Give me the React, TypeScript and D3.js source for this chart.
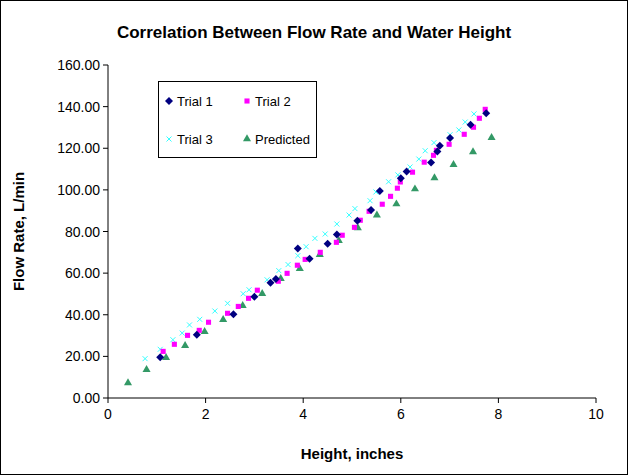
import * as d3 from 'd3';

const trial1X = [1.07, 1.82, 2.57, 3.0, 3.33, 3.44, 3.89, 4.13, 4.5, 4.69, 5.11, 5.39, 5.57, 6.0, 6.12, 6.62, 6.75, 6.8, 7.01, 7.43, 7.75];
const trial1Y = [19.6, 30.4, 40.2, 48.7, 55.4, 57.2, 71.8, 66.9, 74.1, 78.5, 85.2, 90.3, 99.5, 105.6, 108.8, 113.1, 118.4, 121.2, 124.9, 131.3, 136.8];
const trial2X = [1.13, 1.36, 1.63, 1.87, 2.06, 2.45, 2.67, 2.88, 3.06, 3.49, 3.67, 3.88, 4.04, 4.35, 4.68, 4.8, 5.05, 5.17, 5.35, 5.62, 5.79, 5.93, 5.99, 6.24, 6.48, 6.67, 6.73, 6.99, 7.3, 7.49, 7.61, 7.73];
const trial2Y = [22.4, 25.8, 30.1, 32.5, 36.4, 40.7, 44.0, 47.9, 51.8, 56.1, 59.9, 63.8, 66.6, 70.0, 74.8, 78.2, 82.0, 85.4, 89.7, 93.1, 96.9, 100.8, 103.8, 108.5, 113.3, 116.6, 119.0, 121.9, 126.7, 130.1, 134.4, 138.7];
const trial3X = [0.76, 1.07, 1.33, 1.52, 1.67, 1.88, 2.19, 2.45, 2.77, 2.89, 3.26, 3.5, 3.69, 3.89, 4.06, 4.24, 4.45, 4.69, 4.94, 5.06, 5.37, 5.49, 5.75, 5.94, 6.19, 6.37, 6.5, 6.68, 7.01, 7.19, 7.32, 7.5];
const trial3Y = [18.9, 23.4, 28.0, 31.2, 35.1, 37.8, 41.8, 45.5, 50.1, 52.0, 56.8, 61.2, 64.1, 68.4, 72.7, 76.7, 78.8, 83.6, 87.9, 91.0, 94.8, 99.0, 103.9, 107.2, 111.0, 114.8, 118.8, 122.7, 126.5, 128.8, 132.6, 136.5];
const predX = [0.41, 0.79, 1.19, 1.58, 1.98, 2.36, 2.76, 3.16, 3.54, 3.93, 4.34, 4.73, 5.12, 5.51, 5.91, 6.29, 6.69, 7.08, 7.48, 7.86];
const predY = [7.2, 13.6, 19.4, 25.1, 31.9, 37.6, 44.4, 50.1, 57.3, 62.1, 68.9, 75.6, 81.7, 87.9, 93.2, 100.4, 105.7, 112.1, 118.2, 125.1];
const xTicks = [0, 2, 4, 6, 8, 10];
const yTicks = [0, 20, 40, 60, 80, 100, 120, 140, 160];

const W = 629, H = 476;
const x = d3.scaleLinear().domain([0, 10]).range([108, 596]);
const y = d3.scaleLinear().domain([0, 160]).range([398, 65]);
const font = 'Arial, "Liberation Sans", sans-serif';

const diamond = 'M0,-4L4,0L0,4L-4,0Z';
const square = d3.symbol(d3.symbolSquare, 26)()!;
const triangle = d3.symbol(d3.symbolTriangle, 28)()!;

function Cross({ cx, cy }: { cx: number; cy: number }) {
  return (
    <g transform={`translate(${cx},${cy})`} stroke="#33ffff" strokeWidth={1}>
      <line x1={-2.5} y1={-2.5} x2={2.5} y2={2.5} />
      <line x1={-2.5} y1={2.5} x2={2.5} y2={-2.5} />
    </g>
  );
}

export default function App() {
  return (
    <svg width={W} height={H} style={{ position: 'absolute', left: 0, top: 0 }}>
      <rect x={0.5} y={0.5} width={W - 2} height={H - 2} fill="white" stroke="black" />
      <text x={314} y={38} textAnchor="middle" fontFamily={font} fontWeight="bold" fontSize={17}>
        Correlation Between Flow Rate and Water Height
      </text>
      <line x1={x(0)} y1={y(0)} x2={x(10)} y2={y(0)} stroke="black" />
      <line x1={x(0)} y1={y(0)} x2={x(0)} y2={y(160)} stroke="black" />
      {xTicks.map(t => (
        <g key={t}>
          <line x1={x(t)} x2={x(t)} y1={y(0)} y2={y(0) + 5} stroke="black" />
          <text x={x(t)} y={y(0) + 21} textAnchor="middle" fontFamily={font} fontSize={14}>{t}</text>
        </g>
      ))}
      {yTicks.map(t => (
        <g key={t}>
          <line x1={x(0) - 5} x2={x(0)} y1={y(t)} y2={y(t)} stroke="black" />
          <text x={x(0) - 8} y={y(t) + 5} textAnchor="end" fontFamily={font} fontSize={14}>{d3.format('.2f')(t)}</text>
        </g>
      ))}
      <text x={352} y={459} textAnchor="middle" fontFamily={font} fontWeight="bold" fontSize={15}>Height, inches</text>
      <text transform={`translate(24,${(y(0) + y(160)) / 2}) rotate(-90)`} textAnchor="middle" fontFamily={font} fontWeight="bold" fontSize={15}>Flow Rate, L/min</text>
      {trial3X.map((v, i) => <Cross key={'c' + i} cx={x(v)} cy={y(trial3Y[i])} />)}
      {predX.map((v, i) => <path key={'p' + i} d={triangle} fill="#339966" transform={`translate(${x(v)},${y(predY[i])})`} />)}
      {trial2X.map((v, i) => <path key={'s' + i} d={square} fill="#ff00ff" transform={`translate(${x(v)},${y(trial2Y[i])})`} />)}
      {trial1X.map((v, i) => <path key={'d' + i} d={diamond} fill="#000080" transform={`translate(${x(v)},${y(trial1Y[i])})`} />)}
      <rect x={158.5} y={81.5} width={158} height={76} fill="white" stroke="black" />
      <path d={diamond} fill="#000080" transform="translate(169,101)" />
      <text x={177} y={106} fontFamily={font} fontSize={13}>Trial 1</text>
      <path d={square} fill="#ff00ff" transform="translate(247,101)" />
      <text x={255} y={106} fontFamily={font} fontSize={13}>Trial 2</text>
      <Cross cx={169} cy={139} />
      <text x={177} y={144} fontFamily={font} fontSize={13}>Trial 3</text>
      <path d={triangle} fill="#339966" transform="translate(247,139)" />
      <text x={255} y={144} fontFamily={font} fontSize={13}>Predicted</text>
    </svg>
  );
}
